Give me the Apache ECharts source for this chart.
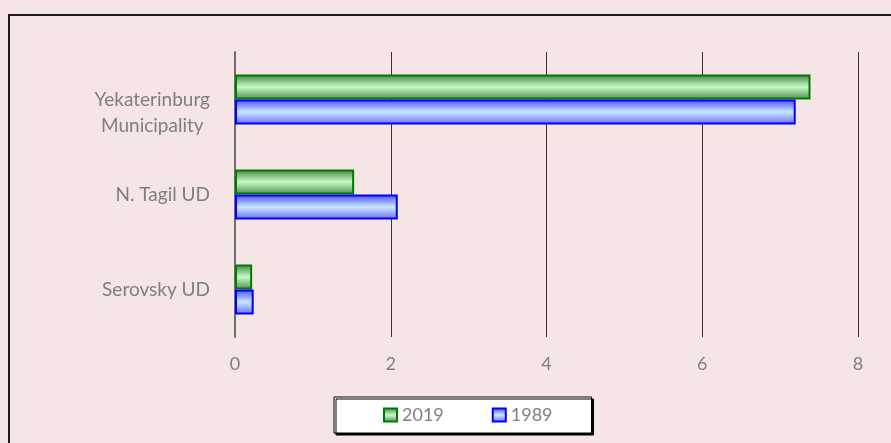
<!DOCTYPE html>
<html>
<head>
<meta charset="utf-8">
<script src="https://cdn.jsdelivr.net/npm/echarts@6/dist/echarts.min.js"></script>
<style>
  html, body { margin: 0; padding: 0; background: #f5e5e5; }
  #main { width: 891px; height: 443px; }
</style>
</head>
<body>
<div id="main"></div>
<script>
// categories top to bottom
var categories = ['Yekaterinburg\nMunicipality', 'N. Tagil UD', 'Serovsky UD'];
var values2019 = [7.39, 1.53, 0.22];
var values1989 = [7.20, 2.09, 0.24];
var xTicks = [0, 2, 4, 6, 8];

var chart = echarts.init(document.getElementById('main'));

function grad(edge, mid, edge2) {
  return new echarts.graphic.LinearGradient(0, 0, 0, 1, [
    { offset: 0, color: edge },
    { offset: 0.5, color: mid },
    { offset: 1, color: edge2 }
  ]);
}

var option = {
  backgroundColor: '#f5e5e5',
  animation: false,
  textStyle: { fontFamily: 'Lato, "Open Sans", sans-serif' },
  graphic: [{
    type: 'rect',
    shape: { x: 9, y: 15, width: 1000, height: 1000 },
    style: { fill: 'none', stroke: '#1a1a1a', lineWidth: 2 },
    silent: true
  }],
  grid: { left: 235, right: 33, top: 52, bottom: 106 },
  legend: {
    left: 334, top: 397,
    padding: [9, 39, 9, 49],
    backgroundColor: '#ffffff',
    borderColor: '#000000',
    borderWidth: 1,
    borderRadius: 0,
    shadowColor: '#000000',
    shadowOffsetX: 2,
    shadowOffsetY: 2,
    shadowBlur: 0,
    icon: 'rect',
    itemWidth: 13, itemHeight: 13,
    itemGap: 48,
    textStyle: { color: '#7f7f7f', fontSize: 18, fontFamily: 'Lato, sans-serif' },
    data: ['2019', '1989']
  },
  xAxis: {
    type: 'value',
    min: xTicks[0], max: xTicks[xTicks.length - 1], interval: 2,
    axisLine: { show: false },
    axisTick: { show: false },
    splitLine: { show: true, lineStyle: { color: '#333333', width: 1 } },
    axisLabel: { color: '#7f7f7f', fontSize: 18, margin: 18 }
  },
  yAxis: {
    type: 'category',
    inverse: true,
    data: categories,
    axisLine: { show: true, lineStyle: { color: '#6f6f6f', width: 2 } },
    axisTick: { show: false },
    axisLabel: {
      color: '#7f7f7f', fontSize: 19, margin: 25,
      formatter: function (v) {
        return v.indexOf('\n') >= 0 ? '{two|' + v + '}' : v;
      },
      rich: {
        two: { color: '#7f7f7f', fontSize: 19, lineHeight: 26, padding: [26, 0, 0, 0], align: 'center' }
      }
    }
  },
  series: [{
    name: '2019',
    type: 'bar',
    data: values2019,
    barWidth: 25,
    barGap: '0%',
    itemStyle: {
      color: grad('#3f853f', '#c8f8c8', '#4a8f4a'),
      borderColor: '#007a00',
      borderWidth: 2
    }
  }, {
    name: '1989',
    type: 'bar',
    data: values1989,
    barWidth: 25,
    barGap: '0%',
    itemStyle: {
      color: grad('#4a4aff', '#c8e8ff', '#6a6aff'),
      borderColor: '#0000ff',
      borderWidth: 2
    }
  }]
};
chart.setOption(option);
</script>
</body>
</html>
